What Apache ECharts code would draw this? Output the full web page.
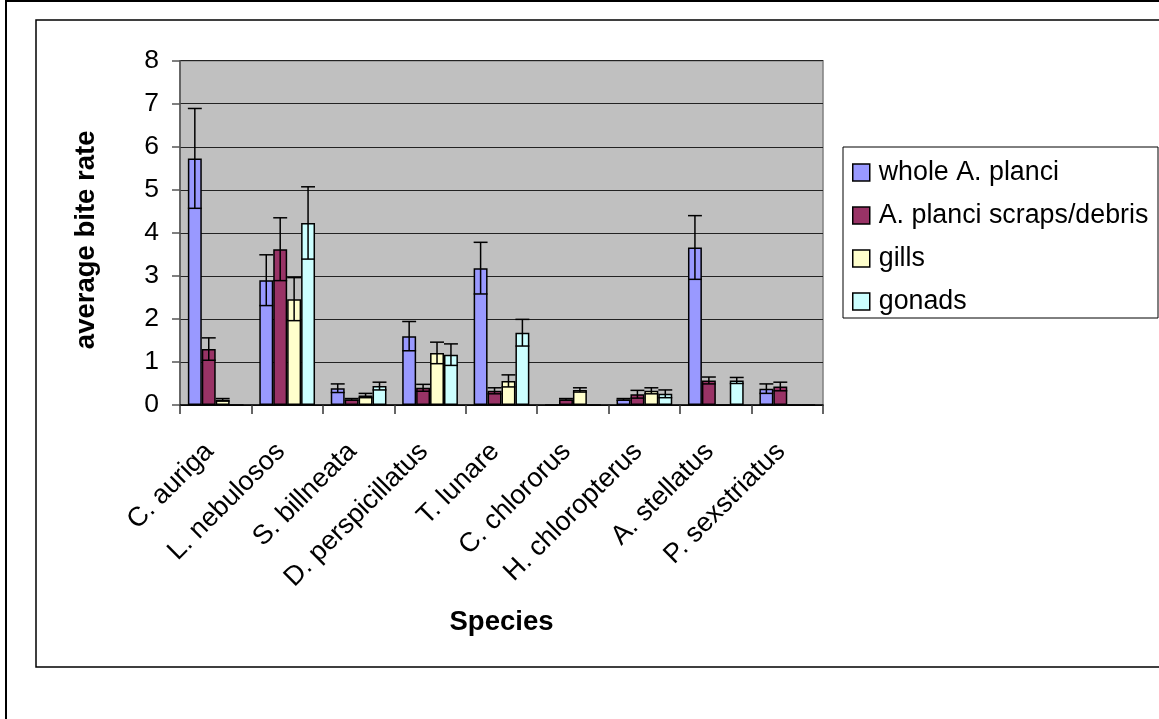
<!DOCTYPE html>
<html>
<head>
<meta charset="utf-8">
<script src="https://cdn.jsdelivr.net/npm/echarts@6/dist/echarts.min.js"></script>
<style>
html,body{margin:0;padding:0;background:#fff;}
#c{width:1159px;height:719px;}
</style>
</head>
<body>
<div id="c"></div>
<script>
const categories = ['C. auriga','L. nebulosos','S. billneata','D. perspicillatus','T. lunare','C. chlororus','H. chloropterus','A. stellatus','P. sexstriatus'];
const seriesNames = ['whole A. planci','A. planci scraps/debris','gills','gonads'];
const whole     = [5.73, 2.90, 0.39, 1.60, 3.18, 0.00, 0.13, 3.66, 0.38];
const wholeErr  = [1.16, 0.59, 0.10, 0.34, 0.60, 0.00, 0.02, 0.74, 0.11];
const scraps    = [1.30, 3.62, 0.13, 0.40, 0.33, 0.13, 0.25, 0.57, 0.43];
const scrapsErr = [0.26, 0.73, 0.02, 0.08, 0.07, 0.02, 0.09, 0.08, 0.10];
const gills     = [0.12, 2.46, 0.22, 1.21, 0.56, 0.35, 0.33, 0.00, 0.00];
const gillsErr  = [0.03, 0.50, 0.05, 0.25, 0.14, 0.05, 0.07, 0.00, 0.00];
const gonads    = [0.00, 4.23, 0.44, 1.17, 1.68, 0.00, 0.26, 0.57, 0.00];
const gonadsErr = [0.00, 0.84, 0.09, 0.25, 0.31, 0.00, 0.09, 0.07, 0.00];
const yTicks = [0,1,2,3,4,5,6,7,8];

const colors = ['#9999FF','#993366','#FFFFCC','#CCFFFF'];
const values = [whole, scraps, gills, gonads];
const errors = [wholeErr, scrapsErr, gillsErr, gonadsErr];
const GAP = 0.22;
const FONT = '"Liberation Sans", Arial, sans-serif';

const chart = echarts.init(document.getElementById('c'), null, {renderer:'canvas'});

const barSeries = values.map((v, k) => ({
  name: seriesNames[k],
  type: 'bar',
  data: v,
  barGap: '0%',
  barCategoryGap: (GAP*100) + '%',
  itemStyle: {color: colors[k], borderColor: '#000', borderWidth: 1.5},
  z: 2
}));

const errSeries = values.map((v, k) => ({
  type: 'custom',
  silent: true,
  z: 5,
  data: v.map((val, i) => [i, val, errors[k][i]]),
  encode: {x: 0, y: 1},
  renderItem: function (params, api) {
    const i = api.value(0), val = api.value(1), e = api.value(2);
    if (!(e > 0)) return null;
    const band = api.size([1, 0])[0];
    const bw = band * (1 - GAP) / 4;
    const cx = api.coord([i, 0])[0] - band * (1 - GAP) / 2 + (k + 0.5) * bw;
    const yT = api.coord([i, val + e])[1];
    const yB = api.coord([i, Math.max(0, val - e)])[1];
    const hw = bw / 2;
    const st = {stroke: '#000', lineWidth: 1.5};
    return {type: 'group', children: [
      {type: 'line', shape: {x1: cx, y1: yT, x2: cx, y2: yB}, style: st},
      {type: 'line', shape: {x1: cx - hw, y1: yT, x2: cx + hw, y2: yT}, style: st},
      {type: 'line', shape: {x1: cx - hw, y1: yB, x2: cx + hw, y2: yB}, style: st}
    ]};
  }
}));

chart.setOption({
  animation: false,
  backgroundColor: '#fff',
  textStyle: {fontFamily: FONT},
  graphic: [
    {type: 'rect', z: 0, shape: {x: 6, y: 1, width: 1200, height: 800}, style: {fill: 'none', stroke: '#000', lineWidth: 2}},
    {type: 'rect', z: 0, shape: {x: 36, y: 20, width: 1200, height: 647}, style: {fill: 'none', stroke: '#000', lineWidth: 1.5}},
    {type: 'rect', z: 1, shape: {x: 843, y: 147, width: 315, height: 171}, style: {fill: '#fff', stroke: '#000', lineWidth: 1}}
  ],
  legend: {
    orient: 'vertical',
    left: 852,
    top: 159,
    padding: 0,
    z: 10,
    itemWidth: 17,
    itemHeight: 17,
    itemGap: 16,
    data: seriesNames,
    icon: 'rect',
    itemStyle: {borderColor: '#000', borderWidth: 1.5},
    textStyle: {fontFamily: FONT, fontSize: 26.8, color: '#000', padding: [0, 0, 0, 4]}
  },
  grid: {
    left: 180, right: 336, top: 60.7, bottom: 314,
    show: true, backgroundColor: '#C0C0C0', borderColor: '#808080', borderWidth: 1.5
  },
  xAxis: {
    type: 'category',
    data: categories,
    name: 'Species',
    nameLocation: 'middle',
    nameGap: 203,
    nameTextStyle: {fontFamily: FONT, fontSize: 27.5, fontWeight: 'bold', color: '#000'},
    axisLine: {lineStyle: {color: '#000', width: 1.5}},
    axisTick: {show: true, length: 9, lineStyle: {color: '#333', width: 1.5}},
    axisLabel: {interval: 0, rotate: 45, margin: 36, padding: [0, 9, 0, 0], fontFamily: FONT, fontSize: 27, color: '#000'}
  },
  yAxis: {
    type: 'value',
    min: yTicks[0], max: yTicks[yTicks.length - 1], interval: 1,
    name: 'average bite rate',
    nameLocation: 'middle',
    nameGap: 80,
    nameTextStyle: {fontFamily: FONT, fontSize: 27.5, fontWeight: 'bold', color: '#000', padding: [0, 14, 0, 0]},
    axisLine: {show: true, lineStyle: {color: '#555', width: 1.5}},
    axisTick: {show: true, length: 8, lineStyle: {color: '#555', width: 1.5}},
    axisLabel: {margin: 21, fontFamily: FONT, fontSize: 26.5, color: '#000'},
    splitLine: {show: true, lineStyle: {color: '#222', width: 1.2}}
  },
  series: barSeries.concat(errSeries)
});
</script>
</body>
</html>
